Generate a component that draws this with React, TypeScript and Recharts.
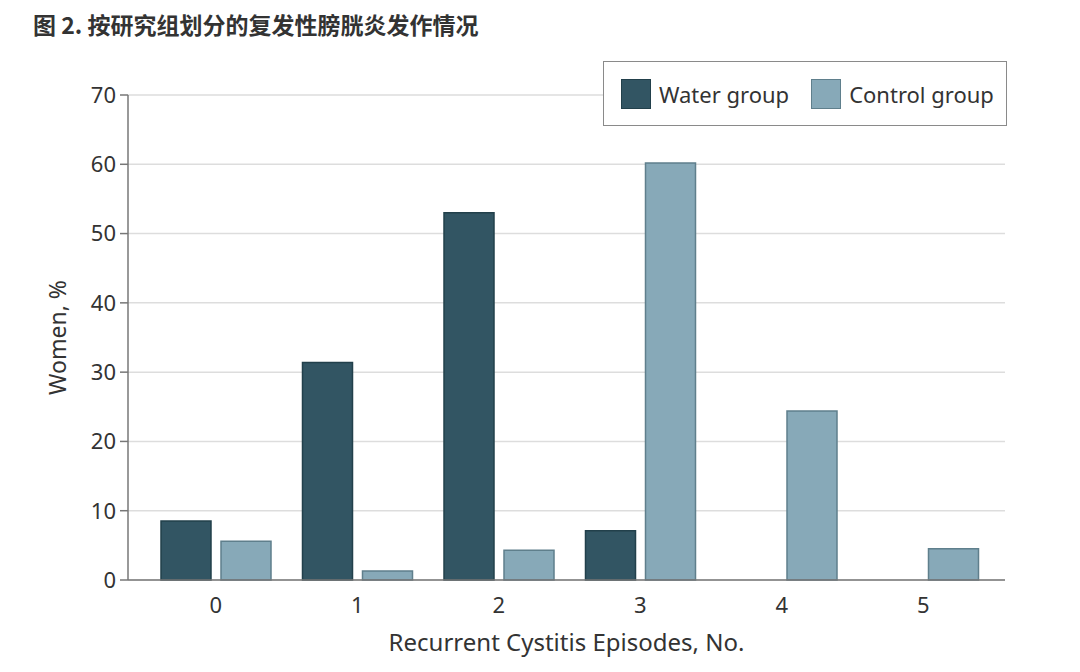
import React from "react";
import { BarChart, Bar, XAxis, YAxis, CartesianGrid } from "recharts";

const categories = ["0", "1", "2", "3", "4", "5"];
const waterGroup = [8.5, 31.4, 53.0, 7.1, 0, 0];
const controlGroup = [5.6, 1.3, 4.3, 60.2, 24.4, 4.5];
const yTicks = [0, 10, 20, 30, 40, 50, 60, 70];

const title = "图 2. 按研究组划分的复发性膀胱炎发作情况";
const xLabel = "Recurrent Cystitis Episodes, No.";
const yLabel = "Women, %";

const seriesInfo = [
  { key: "water", name: "Water group", fill: "#325563", stroke: "#22404b" },
  { key: "control", name: "Control group", fill: "#87a9b8", stroke: "#5f7f8c" },
];

const data = categories.map((c, i) => ({
  cat: c,
  water: waterGroup[i],
  control: controlGroup[i],
}));

const FONT = "'Noto Sans', 'DejaVu Sans', sans-serif";
const TEXT = "#333333";

export default function App() {
  return (
    <div
      style={{
        position: "absolute",
        left: 0,
        top: 0,
        width: 1080,
        height: 672,
        background: "#ffffff",
        fontFamily: FONT,
        overflow: "hidden",
      }}
    >
      <div
        style={{
          position: "absolute",
          left: 33,
          top: 9,
          fontSize: 23,
          fontWeight: 700,
          color: TEXT,
          fontFamily: "'Noto Sans CJK SC', 'Noto Sans', sans-serif",
          whiteSpace: "nowrap",
          lineHeight: "30px",
        }}
      >
        {title}
      </div>
      <BarChart
        width={1080}
        height={672}
        data={data}
        margin={{ top: 95, right: 75, bottom: 12, left: 0 }}
        barSize={50}
        barGap={10}
      >
        <CartesianGrid vertical={false} stroke="#dddddd" strokeWidth={1.5} />
        <XAxis
          dataKey="cat"
          height={80}
          padding={{ left: 17, right: 11 }}
          tickLine={false}
          tickSize={8}
          tickMargin={9}
          axisLine={{ stroke: "#777777", strokeWidth: 1.5 }}
          tick={{ fill: TEXT, fontSize: 22, fontFamily: FONT }}
          label={{
            value: xLabel,
            position: "insideBottom",
            offset: 9,
            style: { fill: TEXT, fontSize: 24, fontFamily: FONT },
          }}
        />
        <YAxis
          width={128}
          domain={[0, 70]}
          ticks={yTicks}
          interval={0}
          tickSize={8}
          tickMargin={4}
          axisLine={{ stroke: "#777777", strokeWidth: 1.5 }}
          tickLine={{ stroke: "#777777", strokeWidth: 1.5 }}
          tick={{ fill: TEXT, fontSize: 22, fontFamily: FONT }}
          label={{
            value: yLabel,
            angle: -90,
            position: "insideLeft",
            offset: 58,
            style: { textAnchor: "middle", fill: TEXT, fontSize: 23, fontFamily: FONT },
          }}
        />
        {seriesInfo.map((s) => (
          <Bar
            key={s.key}
            dataKey={s.key}
            name={s.name}
            fill={s.fill}
            stroke={s.stroke}
            strokeWidth={1.5}
            isAnimationActive={false}
          />
        ))}
      </BarChart>
      <div
        style={{
          position: "absolute",
          left: 603,
          top: 61,
          width: 404,
          height: 65,
          boxSizing: "border-box",
          border: "1.5px solid #8a8a8a",
          background: "#ffffff",
          display: "flex",
          alignItems: "center",
          paddingLeft: 17,
        }}
      >
        {seriesInfo.map((s, i) => (
          <div
            key={s.key}
            style={{
              display: "flex",
              alignItems: "center",
              marginRight: i === 0 ? 22 : 0,
            }}
          >
            <div
              style={{
                width: 30,
                height: 30,
                boxSizing: "border-box",
                background: s.fill,
                border: `1.5px solid ${s.stroke}`,
                marginRight: 8,
              }}
            />
            <span style={{ fontSize: 22, color: TEXT, fontFamily: FONT }}>{s.name}</span>
          </div>
        ))}
      </div>
    </div>
  );
}
